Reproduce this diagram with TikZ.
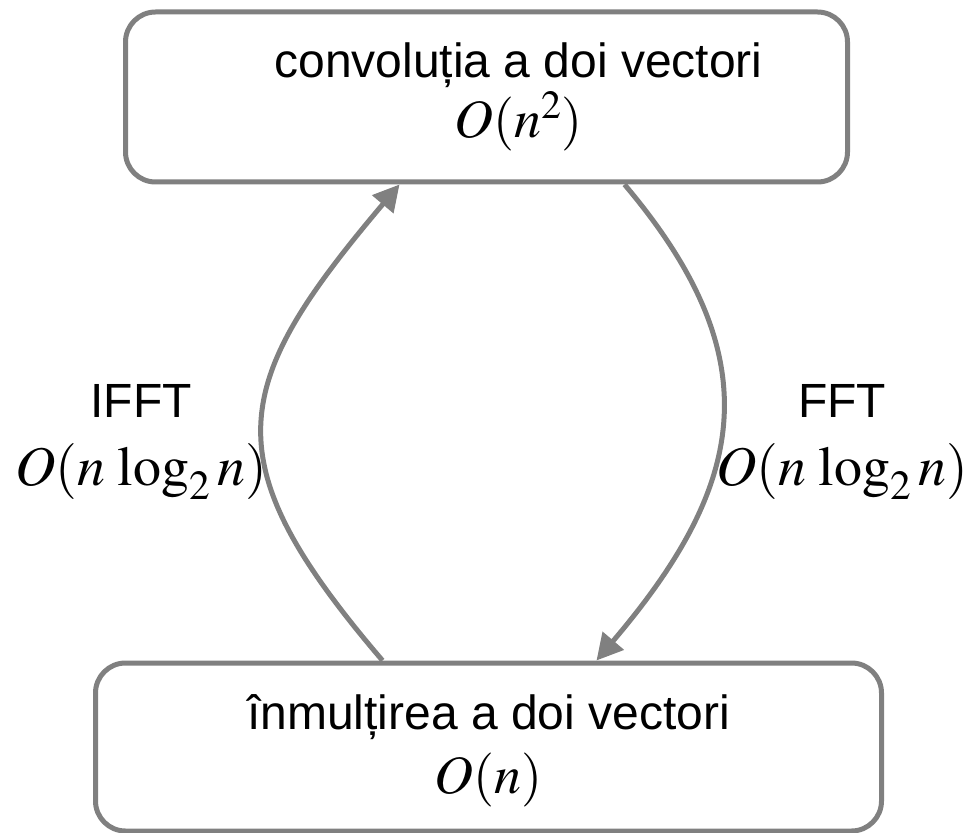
\documentclass[tikz,border=0pt]{standalone}
\usepackage{mathptmx}
\usepackage[no-math]{fontspec}
\setmainfont{Liberation Sans}
\usetikzlibrary{arrows.meta,calc}
\definecolor{linegray}{RGB}{128,128,128}

\begin{document}
\begin{tikzpicture}[x=0.5pt,y=-0.5pt,
        box/.style={draw=linegray,line width=2.5pt,rounded corners=15pt},
        boxtext/.style={align=center,font=\fontsize{24}{30}\selectfont},
        flow/.style={draw=linegray,line width=2.5pt,-{Triangle[length=13pt,width=13.5pt]}},
        lbl/.style={align=center,font=\fontsize{24}{30}\selectfont}]
        \useasboundingbox (0,0) rectangle (973,833);
        \node[box,minimum width=361pt,minimum height=85pt] (conv) at (486.5,97) {};
        \node[boxtext] (convtxt) at ($(conv)+(32,0)$)
            {convoluția a doi vectori\\[0pt] {\fontsize{27}{30}\selectfont$O(n^2)$}};
        \node[box,minimum width=393pt,minimum height=84pt] (mul) at (488.5,747) {};
        \node[boxtext] (multxt) at ($(mul)+(0,4)$)
            {înmulțirea a doi vectori\\[2pt] {\fontsize{27}{30}\selectfont$O(n)$}};
        % the two transforms
        \draw[flow] ($(mul.north)+(-106,0)$) .. controls (211,460) and (229,386) .. ($(conv.south)+(-87,0)$);
        \draw[flow] ($(conv.south)+(138,0)$) .. controls (773,360) and (745,486) .. ($(mul.north)+(108,0)$);
        \node[lbl] (ifft) at (141,442) {IFFT\\[4pt] {\fontsize{28}{30}\selectfont$O(n\,\log_2 n)$}};
        \node[lbl] (fft) at (842,442) {FFT\\[4pt] {\fontsize{28}{30}\selectfont$O(n\,\log_2 n)$}};
    \end{tikzpicture}
\end{document}
